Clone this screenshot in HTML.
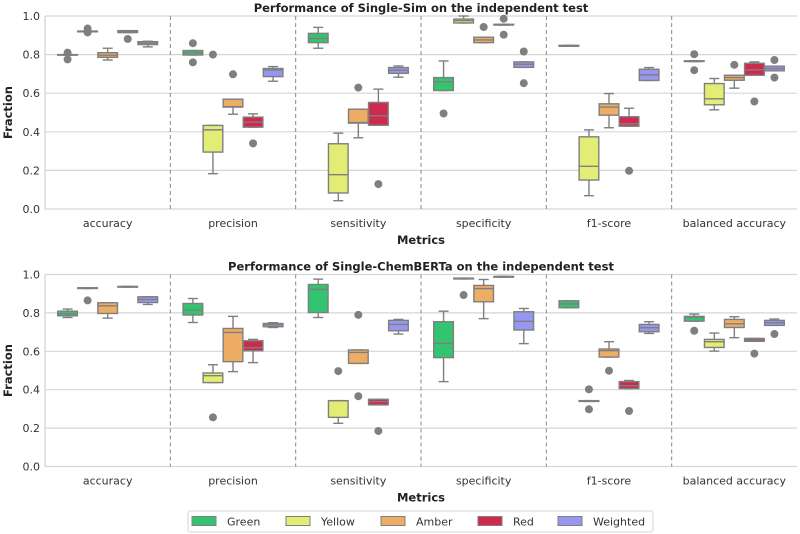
<!DOCTYPE html>
<html><head><meta charset="utf-8"><style>
html,body{margin:0;padding:0;background:#fff;}
svg{display:block;font-family:"DejaVu Sans","Liberation Sans",sans-serif;}
</style></head><body>
<svg id="chart" width="800" height="534" viewBox="0 0 800 534" xmlns="http://www.w3.org/2000/svg"></svg>
<script>
const categories = ["accuracy","precision","sensitivity","specificity","f1-score","balanced accuracy"];
const seriesNames = ["Green","Yellow","Amber","Red","Weighted"];
const seriesColors = ["#33c46f","#e3ec74","#eead65","#cf2a4e","#9797f2"];
const yTicks = [0.0,0.2,0.4,0.6,0.8,1.0];
const yTickLabels = ["0.0","0.2","0.4","0.6","0.8","1.0"];
// each stat: [whiskerLow, q1, median, q3, whiskerHigh, [outliers]]
const simGreen = [[.797,.797,.799,.80,.80,[.81,.775]],[.798,.798,.81,.821,.821,[.859,.76]],[.833,.862,.884,.91,.941,[]],[.614,.614,.659,.681,.767,[.495]],[.843,.843,.845,.848,.848,[]],[.764,.764,.766,.768,.768,[.802,.719]]];
const simYellow = [[.918,.918,.92,.922,.922,[.935,.915]],[.183,.295,.41,.433,.433,[.80]],[.043,.083,.178,.338,.393,[]],[.964,.964,.976,.984,1.0,[]],[.069,.15,.221,.374,.41,[]],[.514,.54,.571,.65,.676,[]]];
const simAmber = [[.772,.786,.797,.81,.833,[]],[.491,.528,.530,.569,.569,[.698]],[.369,.445,.448,.517,.517,[.629]],[.862,.862,.876,.89,.89,[.943]],[.421,.486,.528,.545,.598,[]],[.626,.667,.681,.693,.693,[.747]]];
const simRed = [[.914,.914,.92,.924,.924,[.881]],[.424,.424,.45,.476,.493,[.34]],[.434,.434,.483,.552,.621,[.129]],[.953,.953,.955,.957,.957,[.986,.903]],[.429,.429,.441,.478,.522,[.198]],[.693,.693,.721,.755,.762,[.557]]];
const simWeighted = [[.84,.852,.86,.867,.869,[]],[.662,.686,.72,.728,.738,[]],[.683,.703,.719,.733,.741,[]],[.734,.734,.75,.762,.762,[.816,.652]],[.666,.666,.695,.724,.733,[]],[.716,.716,.728,.74,.74,[.772,.681]]];
const cbGreen = [[.776,.785,.795,.809,.82,[]],[.75,.789,.815,.849,.875,[]],[.776,.802,.922,.948,.976,[]],[.442,.567,.641,.754,.809,[]],[.827,.827,.847,.863,.863,[]],[.757,.757,.778,.782,.794,[.707]]];
const cbYellow = [[.927,.927,.929,.931,.931,[.865]],[.437,.437,.473,.487,.53,[.256]],[.225,.256,.343,.343,.343,[.497]],[.977,.977,.979,.981,.981,[.893]],[.339,.339,.341,.343,.343,[.402,.298]],[.601,.62,.65,.662,.695,[]]];
const cbAmber = [[.773,.797,.837,.853,.853,[]],[.494,.546,.698,.719,.782,[]],[.537,.537,.594,.607,.607,[.79,.366]],[.77,.858,.927,.943,.974,[]],[.57,.57,.603,.612,.65,[.499]],[.671,.724,.743,.766,.78,[]]];
const cbRed = [[.934,.934,.936,.938,.938,[]],[.541,.603,.619,.655,.662,[]],[.321,.321,.338,.35,.35,[.185]],[.986,.986,.988,.99,.99,[]],[.406,.406,.421,.442,.448,[.289]],[.652,.652,.659,.667,.667,[.588]]];
const cbWeighted = [[.844,.854,.87,.884,.884,[]],[.724,.728,.738,.745,.749,[]],[.69,.707,.74,.761,.766,[]],[.64,.711,.756,.806,.823,[]],[.693,.702,.723,.74,.754,[]],[.735,.735,.749,.761,.768,[.69]]];
const panels = [
 {title:"Performance of Single-Sim on the independent test", top:16, bottom:209, data:[simGreen,simYellow,simAmber,simRed,simWeighted]},
 {title:"Performance of Single-ChemBERTa on the independent test", top:274.5, bottom:466.5, data:[cbGreen,cbYellow,cbAmber,cbRed,cbWeighted]}
];
const NS="http://www.w3.org/2000/svg";
const svg=document.getElementById('chart');
const X0=45, X1=797;
function mk(tag,attrs,parent,text){const e=document.createElementNS(NS,tag);for(const k in attrs)e.setAttribute(k,attrs[k]);if(text!==undefined)e.textContent=text;(parent||svg).appendChild(e);return e;}
const catW=(X1-X0)/categories.length;
const slotW=catW*0.8/seriesNames.length;
function xCenter(ci,si){return X0+catW*(ci+0.5)+(si-(seriesNames.length-1)/2)*slotW;}
panels.forEach((p,pi)=>{
  const g=mk('g',{});  
  const y=v=>p.bottom-(p.bottom-p.top)*v;
  yTicks.forEach((t,i)=>{
    const gl=mk('line',{x1:X0,x2:X1,y1:y(t),y2:y(t),stroke:'#d6d6d6','stroke-width':1.2},g);
     
    const tl=mk('text',{x:X0-5,y:y(t)+4,'text-anchor':'end','font-size':11,fill:'#333'},g,yTickLabels[i]);
     
  });
  const ax=mk('line',{x1:X0,x2:X0,y1:p.top,y2:p.bottom,stroke:'#d0d0d0','stroke-width':1.2},g);
   
  for(let c=1;c<categories.length;c++){
    const d=mk('line',{x1:X0+catW*c,x2:X0+catW*c,y1:p.top,y2:p.bottom,stroke:'#888','stroke-width':1,'stroke-dasharray':'4,3'},g);
     
  }
  categories.forEach((c,ci)=>{
    const t=mk('text',{x:X0+catW*(ci+0.5),y:p.bottom+18,'text-anchor':'middle','font-size':11,fill:'#333'},g,c);
     
  });
  const tt=mk('text',{x:(X0+X1)/2,y:p.top-4,'text-anchor':'middle','font-size':11.5,'font-weight':'bold',fill:'#222'},g,p.title);
   
  const xl=mk('text',{x:(X0+X1)/2,y:p.bottom+35,'text-anchor':'middle','font-size':11.5,'font-weight':'bold',fill:'#222'},g,'Metrics');
   
  const ym=(p.top+p.bottom)/2;
  const yl=mk('text',{x:12,y:ym,'text-anchor':'middle','font-size':11.5,'font-weight':'bold',fill:'#222',transform:'rotate(-90 12 '+ym+')'},g,'Fraction');
   
  p.data.forEach((series,si)=>{
    series.forEach((s,ci)=>{
      const cx=xCenter(ci,si), hw=slotW*0.49, cw=slotW*0.25;
      const bg=mk('g',{},g);
      
      
      const st={stroke:'#7f7f7f','stroke-width':1.4};
      mk('line',Object.assign({x1:cx,x2:cx,y1:y(s[0]),y2:y(s[1])},st),bg);
      mk('line',Object.assign({x1:cx,x2:cx,y1:y(s[3]),y2:y(s[4])},st),bg);
      mk('line',Object.assign({x1:cx-cw,x2:cx+cw,y1:y(s[0]),y2:y(s[0])},st),bg);
      mk('line',Object.assign({x1:cx-cw,x2:cx+cw,y1:y(s[4]),y2:y(s[4])},st),bg);
      mk('rect',Object.assign({x:cx-hw,y:y(s[3]),width:2*hw,height:Math.max(0.5,y(s[1])-y(s[3])),fill:seriesColors[si]},st),bg);
      mk('line',Object.assign({x1:cx-hw,x2:cx+hw,y1:y(s[2]),y2:y(s[2])},st),bg);
      s[5].forEach(o=>{
        const c=mk('circle',{cx:cx,cy:y(o),r:4,fill:'#7f7f7f'},bg);
         
      });
    });
  });
});
const lg=mk('g',{});
 
mk('rect',{x:188,y:511,width:465,height:21,rx:2,fill:'#fff',stroke:'#d6d6d6','stroke-width':1},lg);
const legX=[192,286,381,478,558];
seriesNames.forEach((n,i)=>{
  const e=mk('g',{},lg);
  
  
  mk('rect',{x:legX[i],y:516.5,width:24,height:9,fill:seriesColors[i],stroke:'#7f7f7f','stroke-width':1},e);
  mk('text',{x:legX[i]+35,y:525.5,'font-size':11,fill:'#333'},e,n);
});
</script>
</body></html>
